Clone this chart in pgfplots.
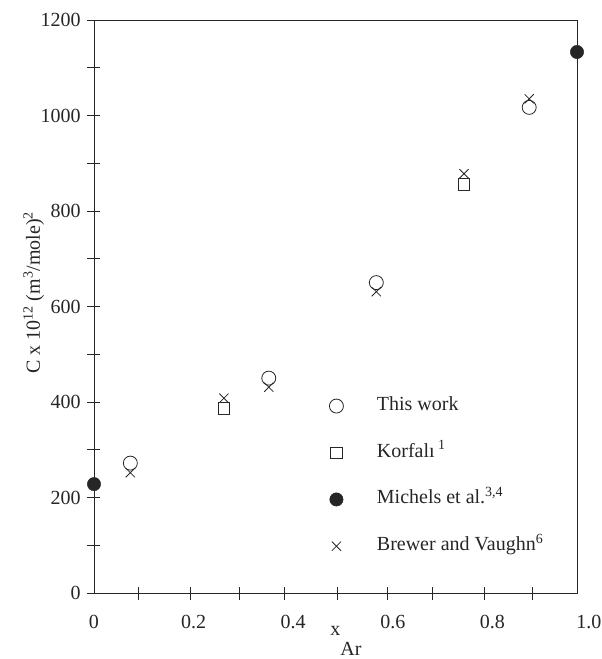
\documentclass[border=0pt]{standalone}
\usepackage{fontspec}
\setmainfont{Liberation Serif}
\usepackage{pgfplots}
\pgfplotsset{compat=1.18}
\definecolor{ink}{HTML}{262626}
\begin{document}
\fontsize{20bp}{24bp}\selectfont
\begin{tikzpicture}
\useasboundingbox (-94bp,-66bp) rectangle (508bp,593bp);
\begin{axis}[
  scale only axis, width=483bp, height=573bp,
  xmin=0, xmax=0.97, ymin=0, ymax=1200,
  axis line style={ink, line width=0.8bp},
  xtick={0.089,0.193,0.293,0.383,0.488,0.589,0.679,0.784,0.881},
  xticklabels={},
  ytick={0,200,400,600,800,1000,1200},
  minor ytick={100,300,500,700,900,1100},
  tick align=center, major tick length=13bp, minor tick length=13bp,
  tick pos=left,
  tick style={ink, line width=0.8bp},
  /pgf/number format/assume math mode=true,
  /pgf/number format/1000 sep={},
  yticklabel style={font=\fontsize{20bp}{24bp}\selectfont, text=ink},
  clip=false,
  legend style={at={(rel axis cs:0.487,0.204)}, anchor=west, draw=none, fill=none,
    inner sep=0pt, row sep=27.7bp,
    nodes={inner sep=0pt, text height=14bp, text depth=5bp, text=ink},
    font=\fontsize{20bp}{24bp}\selectfont},
  legend cell align=left,
]
\addplot[only marks, mark=o, mark size=7bp, ink, line width=0.8bp] coordinates {
  (0.073,272) (0.351,450) (0.567,650) (0.874,1017)};
\addlegendentry{\hspace{33.5bp}This work}
\addplot[only marks, mark=square, mark size=5.8bp, ink, line width=0.8bp] coordinates {
  (0.261,386) (0.743,856)};
\addlegendentry{\hspace{33.5bp}Korfalı\,\textsuperscript{1}}
\addplot[only marks, mark=*, mark size=6.7bp, ink, fill=ink] coordinates {
  (0,228) (0.97,1133)};
\addlegendentry{\hspace{33.5bp}Michels et al.\textsuperscript{3,4}}
\addplot[only marks, mark=x, mark size=6.5bp, ink, line width=0.8bp] coordinates {
  (0.073,252) (0.261,408) (0.351,431) (0.567,631) (0.743,878) (0.874,1035)};
\addlegendentry{\hspace{33.5bp}Brewer and Vaughn\textsuperscript{6}}
\node[anchor=base, text=ink] at (axis cs:0,0) [yshift=-35bp] {0};
\node[anchor=base, text=ink] at (axis cs:0.2,0) [yshift=-35bp] {0.2};
\node[anchor=base, text=ink] at (axis cs:0.4,0) [yshift=-35bp] {0.4};
\node[anchor=base, text=ink] at (axis cs:0.6,0) [yshift=-35bp] {0.6};
\node[anchor=base, text=ink] at (axis cs:0.8,0) [yshift=-35bp] {0.8};
\node[anchor=base east, text=ink, inner sep=0pt] at ([yshift=-35bp]rel axis cs:1,0) [xshift=24.5bp] {1.0};
\node[anchor=base west, text=ink, inner sep=0pt] at (rel axis cs:0.489,0) [yshift=-42bp] {x\raisebox{-20bp}{Ar}};
\node[rotate=90, anchor=base, text=ink, inner sep=0pt] at ([xshift=-54bp]rel axis cs:0,0.524) {C x 10\textsuperscript{12} (m\textsuperscript{3}/mole)\textsuperscript{2}};
\end{axis}
\end{tikzpicture}
\end{document}
